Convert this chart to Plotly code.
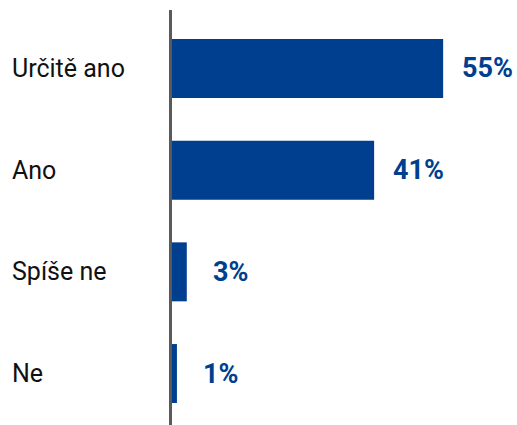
import plotly.graph_objects as go

categories = ["Určitě ano", "Ano", "Spíše ne", "Ne"]
values = [55, 41, 3, 1]
labels = ["55%", "41%", "3%", "1%"]

BAR = "#003f8f"
W, H = 517, 425
L = 172

fig = go.Figure(go.Bar(
    x=values, y=categories, orientation="h",
    marker=dict(color=BAR, line=dict(width=0)),
    width=0.58, hoverinfo="skip",
))

annotations = []
for c, v, t in zip(categories, values, labels):
    annotations.append(dict(
        x=v, y=c, xref="x", yref="y", text=t, showarrow=False,
        xanchor="center", yanchor="middle", xshift=44,
        font=dict(family="Roboto", size=27, color=BAR, weight="bold"),
    ))
    annotations.append(dict(
        x=0, y=c, xref="paper", yref="y", text=c, showarrow=False,
        xanchor="left", yanchor="middle", xshift=-(L - 10),
        font=dict(family="Roboto", size=25, color="#111111"),
    ))

fig.update_layout(
    width=W, height=H,
    margin=dict(l=L, r=0, t=10, b=0),
    plot_bgcolor="white", paper_bgcolor="white",
    showlegend=False,
    annotations=annotations,
    xaxis=dict(range=[0, (W - L) / 4.93], visible=False, fixedrange=True),
    yaxis=dict(
        categoryorder="array", categoryarray=categories,
        range=[3.506, -0.575],
        showticklabels=False, showgrid=False, zeroline=False,
        showline=True, linecolor="#5a5a5a", linewidth=2.5,
        ticks="", fixedrange=True,
    ),
)

fig.write_html(
    "out.html",
    config={"displayModeBar": False},
    post_script="document.body.style.margin='0';document.body.style.overflow='hidden';",
)
